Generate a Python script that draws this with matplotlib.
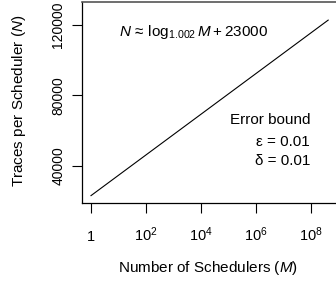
import numpy as np
import matplotlib
matplotlib.use("Agg")
import matplotlib.pyplot as plt

# Data
schedulers_M = [1, 10**8.64]
traces_N = [23000, 122800]
x_ticks = [1, 1e2, 1e4, 1e6, 1e8]
x_ticklabels = ["1", "$10^2$", "$10^4$", "$10^6$", "$10^8$"]
y_ticks = [40000, 80000, 120000]
y_ticklabels = ["40000", "80000", "120000"]

plt.rcParams['font.family'] = ['Liberation Sans', 'DejaVu Sans']
plt.rcParams['mathtext.fontset'] = 'custom'
plt.rcParams['mathtext.rm'] = 'Liberation Sans'
plt.rcParams['mathtext.it'] = 'Liberation Sans:italic'
plt.rcParams['mathtext.bf'] = 'Liberation Sans:bold'

W, H = 336, 284
fig = plt.figure(figsize=(W/100, H/100), dpi=100)
left, right, top, bottom = 82, 336, 2, 203
ax = fig.add_axes([left/W, (H-bottom)/H, (right-left)/W, (bottom-top)/H])

ax.plot(schedulers_M, traces_N, color='black', lw=0.8)
ax.set_xscale('log')
ax.set_xlim(10**-0.328, 10**8.925)
ax.set_ylim(18800, 133100)

ax.set_xticks(x_ticks)
ax.set_xticklabels(x_ticklabels)
ax.xaxis.set_minor_locator(matplotlib.ticker.NullLocator())
ax.set_yticks(y_ticks)
ax.set_yticklabels(y_ticklabels, rotation=90, va='center')

ax.tick_params(axis='x', direction='out', length=7, width=0.8, labelsize=10.5, pad=20.4)
ax.tick_params(axis='y', direction='out', length=7, width=0.8, labelsize=10, pad=5)
for lab in ax.get_xticklabels():
    lab.set_va('baseline')

for s in ['left', 'bottom']:
    ax.spines[s].set_linewidth(0.9)
ax.spines['top'].set_linewidth(1.2)
ax.spines['top'].set_color('#555555')
ax.spines['right'].set_visible(False)

ax.set_xlabel("Number of Schedulers ($\\it{M}$)", fontsize=11, va='center')
ax.xaxis.set_label_coords((208 - left)/(right-left), (bottom-268)/(bottom-top))
ax.set_ylabel("Traces per Scheduler ($\\it{N}$)", fontsize=11, va='center')
ax.yaxis.set_label_coords((19 - left)/(right-left), (bottom-101)/(bottom-top))

fig.text(119/W, (H-32)/H, "$N\\,\\approx\\,\\mathrm{log}_{1.002}\\,M + 23000$", fontsize=11, ha='left', va='center')
fig.text(310/W, (H-120)/H, "Error bound", fontsize=11, ha='right', va='center')
fig.text(310/W, (H-142)/H, "ε = 0.01", fontsize=11, ha='right', va='center')
fig.text(310/W, (H-161)/H, "δ = 0.01", fontsize=11, ha='right', va='center')

fig.savefig("out.png", dpi=100)
